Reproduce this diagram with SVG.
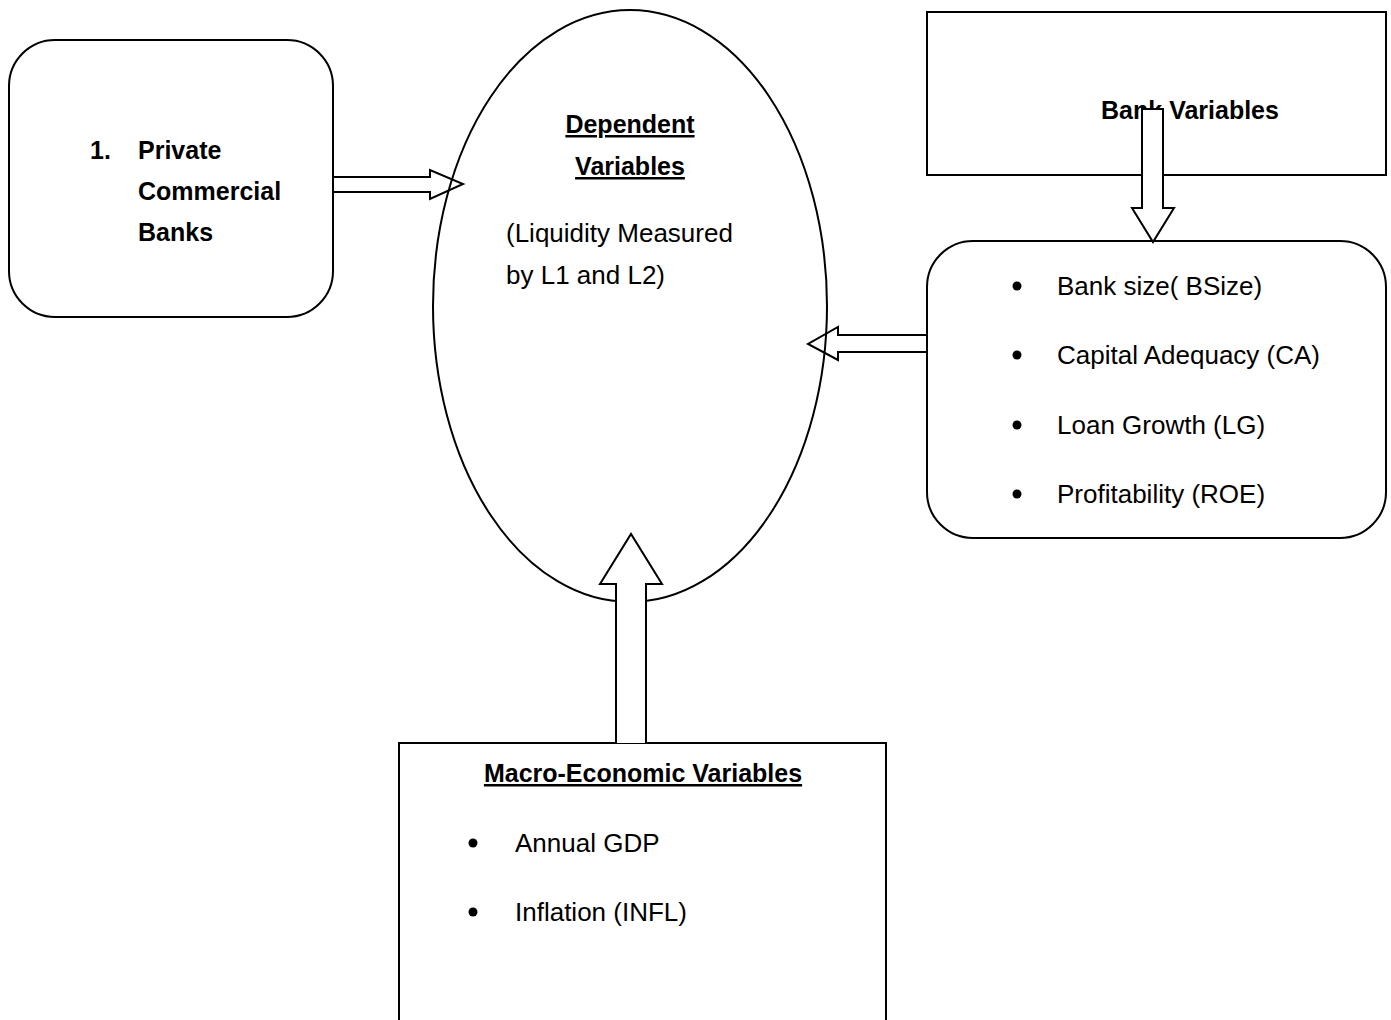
<svg xmlns="http://www.w3.org/2000/svg" width="1391" height="1020" viewBox="0 0 1391 1020">
<style>
.box{fill:#fff;stroke:#000;stroke-width:2}
.t{font-family:"Liberation Sans",Arial,sans-serif;font-size:26px;fill:#000}
.b{font-family:"Liberation Sans",Arial,sans-serif;font-size:25px;font-weight:bold;fill:#000}
.u{text-decoration:underline}
.arr{stroke:#000;stroke-width:2;stroke-linejoin:miter}
</style>
<rect width="1391" height="1020" fill="#fff"/>
<g id="private-banks">
<rect class="box" x="9" y="40" width="324" height="277" rx="46" ry="46"/>
<text class="b" x="90" y="159">1.</text>
<text class="b" x="138" y="159">Private</text>
<text class="b" x="138" y="200">Commercial</text>
<text class="b" x="138" y="241">Banks</text>
</g>
<g id="dependent-variables">
<ellipse cx="630" cy="306" rx="197" ry="296" fill="none" stroke="#000" stroke-width="2"/>
<text class="b u" x="630" y="133" text-anchor="middle">Dependent</text>
<text class="b u" x="630" y="175" text-anchor="middle">Variables</text>
<text class="t" x="506" y="242">(Liquidity Measured</text>
<text class="t" x="506" y="284">by L1 and L2)</text>
</g>
<g id="bank-variables">
<rect class="box" x="927" y="12" width="459" height="163"/>
<text class="b" x="1190" y="119" text-anchor="middle">Bank Variables</text>
</g>
<g id="bank-variable-list">
<rect class="box" x="927" y="241" width="459" height="297" rx="46" ry="46"/>
<circle cx="1017" cy="286" r="4.5"/>
<circle cx="1017" cy="355" r="4.5"/>
<circle cx="1017" cy="425" r="4.5"/>
<circle cx="1017" cy="494" r="4.5"/>
<text class="t" x="1057" y="295">Bank size( BSize)</text>
<text class="t" x="1057" y="364">Capital Adequacy (CA)</text>
<text class="t" x="1057" y="434">Loan Growth (LG)</text>
<text class="t" x="1057" y="503">Profitability (ROE)</text>
</g>
<g id="macro-variables">
<rect class="box" x="399" y="743" width="487" height="300"/>
<text class="b u" x="643" y="782" text-anchor="middle">Macro-Economic Variables</text>
<circle cx="473" cy="843" r="4.5"/>
<circle cx="473" cy="912" r="4.5"/>
<text class="t" x="515" y="852">Annual GDP</text>
<text class="t" x="515" y="921">Inflation (INFL)</text>
</g>
<g id="connectors">
<path class="arr" fill="none" d="M333,177 H430 V170 L463,184 L430,199 V192 H333"/>
<path class="arr" fill="none" d="M927,335 H838 V327 L808,344 L838,360 V352 H927"/>
<path class="arr" fill="#fff" d="M1142,109 H1163 V208 H1174 L1153,242 L1132,208 H1142 Z"/>
<path class="arr" fill="#fff" d="M616,743 V584 H600 L631,534 L662,584 H646 V743"/>
</g>
</svg>
